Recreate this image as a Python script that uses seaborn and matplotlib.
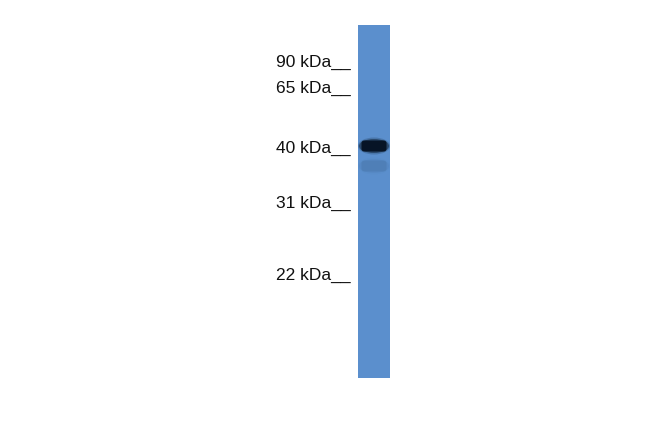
import matplotlib
matplotlib.use("Agg")
import matplotlib.pyplot as plt
from matplotlib.patches import Ellipse, FancyBboxPatch
import seaborn as sns
import numpy as np

# marker ladder (label, vertical position of the tick in the image)
marker_labels = ["90 kDa", "65 kDa", "40 kDa", "31 kDa", "22 kDa"]
marker_pos = [62, 88, 148, 203, 275]

# sample lane and the detected bands (position, relative intensity)
lane_top, lane_bottom = 25, 378
band_pos = [146, 166]
band_strength = [1.0, 0.08]

sns.set_theme(style="white")
plt.rcParams['font.family'] = ['Liberation Sans', 'DejaVu Sans']

fig = plt.figure(figsize=(6.5, 4.33), dpi=100)
ax = fig.add_axes([0, 0, 1, 1])

# lane background
lane_x, lane_w = 374, 32
sns.barplot(x=[lane_x], y=[lane_bottom - lane_top], ax=ax, native_scale=True,
            width=lane_w, bottom=lane_top, color="#5b8fcd", saturation=1,
            edgecolor="none", zorder=1)
ax.set_xlim(0, 650)
ax.set_ylim(433, 0)
ax.axis("off")

# bands: soft halo plus a rounded core
for pos, s in zip(band_pos, band_strength):
    for k, (w, h, a) in enumerate([(32, 17, 0.2), (30, 14, 0.45)]):
        ax.add_patch(Ellipse((lane_x, pos), w, h, color="#051222",
                             alpha=min(1, a * s), lw=0, zorder=2 + k))
    ax.add_patch(FancyBboxPatch((lane_x - 10, pos - 3), 20, 6,
                                boxstyle="round,pad=2.5", color="#051222",
                                alpha=min(1, 0.95 * s), lw=0, zorder=5))

for lab, y in zip(marker_labels, marker_pos):
    ax.text(351, y, lab + "__", ha="right", va="center", fontsize=12.5,
            color="#111111")

fig.savefig("out.png", dpi=100)
